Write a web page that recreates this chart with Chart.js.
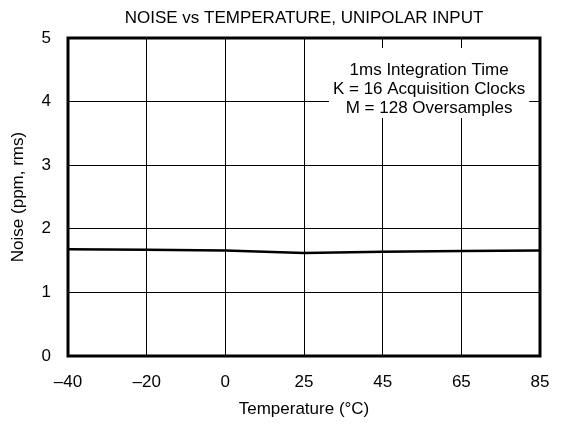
<!DOCTYPE html>
<html>
<head>
<meta charset="utf-8">
<script src="https://cdn.jsdelivr.net/npm/chart.js@4/dist/chart.umd.min.js"></script>
<style>
  html, body { margin: 0; padding: 0; background: #fff; }
  #wrap { width: 561px; height: 427px; }
</style>
</head>
<body>
<div id="wrap"><canvas id="myChart" width="561" height="427"></canvas></div>
<script>
const temps = ["–40", "–20", "0", "25", "45", "65", "85"];
const noise = [1.68, 1.67, 1.66, 1.62, 1.64, 1.65, 1.66];
const yTicks = [0, 1, 2, 3, 4, 5];
const chartTitle = "NOISE vs TEMPERATURE, UNIPOLAR INPUT";
const noteLines = ["1ms Integration Time", "K = 16 Acquisition Clocks", "M = 128 Oversamples"];

const FONT = "'Liberation Sans', Arial, sans-serif";
const FS = 17;

// title centred over the plot, white note box, and the heavy frame
const decoPlugin = {
    id: 'deco',
    afterDatasetsDraw(chart) {
        const ctx = chart.ctx;
        const area = chart.chartArea;
        ctx.save();
        ctx.font = FS + "px " + FONT;
        ctx.fillStyle = '#000';
        ctx.textAlign = 'center';
        ctx.textBaseline = 'middle';
        ctx.fillText(chartTitle, (area.left + area.right) / 2, 18);

        const cx = area.left + (area.right - area.left) * 0.765;
        const y0 = area.top + 32;
        let w = 0;
        noteLines.forEach(t => { w = Math.max(w, ctx.measureText(t).width); });
        ctx.fillStyle = '#fff';
        ctx.fillRect(cx - w / 2 - 4, y0 - 22, w + 8, 19 * (noteLines.length - 1) + 32);
        ctx.fillStyle = '#000';
        noteLines.forEach((t, i) => ctx.fillText(t, cx, y0 + i * 19));

        ctx.strokeStyle = '#000';
        ctx.lineWidth = 3;
        ctx.strokeRect(area.left, area.top, area.right - area.left, area.bottom - area.top);
        ctx.restore();
    }
};

const ctx1 = document.getElementById('myChart').getContext('2d');
new Chart(ctx1, {
    type: 'line',
    data: {
        labels: temps,
        datasets: [{
            data: noise,
            borderColor: '#000',
            borderWidth: 2.5,
            pointRadius: 0,
            tension: 0,
            fill: false
        }]
    },
    options: {
        responsive: false,
        animation: false,
        layout: { padding: { left: 0, right: 21, top: 38, bottom: 0 } },
        plugins: {
            legend: { display: false },
            tooltip: { enabled: false },
            title: { display: false }
        },
        scales: {
            x: {
                type: 'category',
                offset: false,
                afterFit: (axis) => {
                    axis.height = 71;
                    axis.paddingLeft = 0;
                    axis.paddingRight = 0;
                },
                grid: { color: '#000', lineWidth: 1, drawTicks: false },
                border: { display: false },
                ticks: { color: '#000', padding: 16, maxRotation: 0, font: { family: FONT, size: FS } },
                title: {
                    display: true, text: 'Temperature (°C)', color: '#000',
                    font: { family: FONT, size: FS }, padding: { top: 0, bottom: 7 }
                }
            },
            y: {
                min: 0, max: 5,
                afterFit: (axis) => {
                    axis.width = 68;
                    axis.paddingTop = 0;
                    axis.paddingBottom = 0;
                },
                afterBuildTicks: (axis) => { axis.ticks = yTicks.map(v => ({ value: v })); },
                grid: { color: '#000', lineWidth: 1, drawTicks: false },
                border: { display: false },
                ticks: { color: '#000', padding: 17, font: { family: FONT, size: FS } },
                title: {
                    display: true, text: 'Noise (ppm, rms)', color: '#000',
                    font: { family: FONT, size: FS }, padding: { top: 8, bottom: 0 }
                }
            }
        }
    },
    plugins: [decoPlugin]
});
</script>
</body>
</html>
